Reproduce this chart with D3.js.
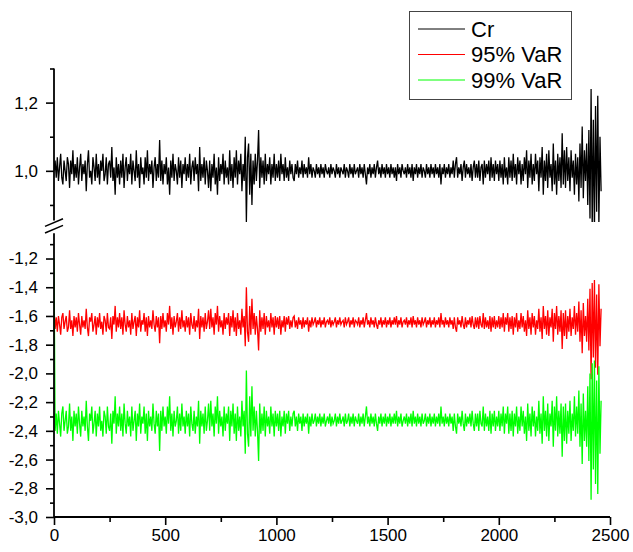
<!DOCTYPE html>
<html>
<head>
<meta charset="utf-8">
<script src="https://cdn.jsdelivr.net/npm/d3@7"></script>
<style>
  body { margin: 0; background: #fff; }
  svg { display: block; }
  text { font-family: Arial, "Liberation Sans", sans-serif; fill: #000; }
</style>
</head>
<body>
<svg id="chart" width="633" height="552"></svg>
<script>
// one sample every 5 steps
var step = 5
var cr = [
  1.00, 1.03, 0.98, 1.04, 0.97, 1.01, 1.05, 0.98, 0.96, 1.03, 1.00, 0.97, 1.04, 1.02, 0.95, 1.03, 0.99, 1.06, 0.97, 1.02,
  0.98, 1.04, 0.96, 1.01, 1.05, 0.97, 1.02, 0.99, 1.03, 0.94, 1.02, 1.06, 0.98, 1.00, 0.96, 1.04, 1.01, 0.97, 1.05, 0.98,
  1.02, 0.96, 1.03, 1.00, 1.05, 0.97, 0.99, 1.04, 0.96, 1.02, 1.03, 0.98, 1.07, 0.97, 1.01, 0.93, 1.04, 0.98, 1.02, 0.96,
  1.03, 0.98, 1.05, 0.95, 1.01, 1.04, 0.97, 1.02, 0.99, 1.05, 0.96, 1.03, 1.00, 0.97, 1.06, 0.98, 1.02, 0.95, 1.04, 0.99,
  1.01, 0.96, 1.04, 0.98, 1.06, 0.97, 1.02, 0.99, 1.03, 0.95, 1.01, 1.04, 0.97, 1.02, 0.98, 1.09, 0.97, 1.03, 0.96, 1.02,
  0.99, 1.04, 0.96, 1.01, 0.93, 1.03, 0.98, 1.05, 0.97, 1.02, 1.00, 0.96, 1.04, 0.98, 1.03, 0.95, 1.02, 0.99, 1.04, 0.97,
  1.02, 0.98, 1.05, 0.96, 1.01, 1.03, 0.97, 1.04, 0.99, 1.02, 0.94, 1.07, 0.97, 1.02, 0.98, 1.04, 0.96, 1.03, 1.00, 0.95,
  1.03, 0.94, 1.02, 0.98, 1.05, 0.96, 1.01, 0.93, 1.04, 0.97, 1.02, 0.99, 1.05, 0.96, 1.03, 0.98, 1.01, 0.96, 1.06, 0.97,
  1.02, 0.95, 1.04, 0.98, 1.06, 0.96, 1.03, 0.99, 1.05, 0.94, 1.02, 0.97, 1.10, 0.85, 1.04, 1.08, 0.93, 1.05, 0.90, 1.03,
  0.96, 1.05, 0.97, 1.03, 1.12, 0.95, 1.04, 0.98, 1.03, 0.96, 1.05, 0.97, 1.02, 0.99, 1.04, 0.96, 1.02, 0.98, 1.05, 0.97,
  1.02, 0.98, 1.03, 0.97, 1.05, 0.99, 1.02, 0.97, 1.04, 0.98, 1.01, 0.97, 1.03, 0.99, 1.02, 0.98, 0.97, 1.02, 0.99, 1.03,
  0.98, 1.01, 0.99, 1.03, 0.98, 1.02, 0.99, 1.01, 0.98, 1.04, 0.99, 1.02, 0.98, 1.01, 1.00, 0.98, 1.02, 0.99, 1.01, 0.98,
  1.02, 0.99, 1.01, 0.98, 1.02, 1.00, 0.99, 1.01, 0.98, 1.02, 0.99, 1.01, 1.00, 0.98, 1.02, 0.99, 1.01, 0.98, 1.01, 1.00,
  0.99, 1.02, 0.98, 1.01, 1.00, 0.98, 1.02, 0.99, 1.01, 0.98, 1.02, 0.99, 1.00, 1.01, 0.98, 1.02, 0.99, 1.01, 0.98, 1.02,
  0.99, 0.96, 1.01, 0.99, 1.02, 0.98, 1.01, 0.99, 1.02, 0.98, 1.01, 1.03, 0.99, 1.01, 0.98, 1.02, 0.99, 1.01, 0.98, 1.02,
  0.99, 1.01, 0.98, 1.02, 0.99, 1.01, 0.98, 1.01, 0.97, 1.02, 0.99, 1.01, 0.98, 1.02, 1.00, 0.99, 1.01, 0.98, 1.02, 0.99,
  1.01, 0.98, 1.02, 0.97, 1.01, 0.99, 1.02, 0.98, 1.01, 0.99, 1.02, 0.98, 1.01, 1.00, 0.98, 1.02, 0.99, 1.01, 0.98, 1.02,
  0.99, 1.01, 0.98, 1.02, 0.99, 1.01, 0.98, 1.02, 0.96, 1.01, 0.99, 1.02, 0.98, 1.01, 0.99, 1.02, 0.98, 1.01, 0.99, 1.03,
  0.98, 1.02, 1.04, 0.98, 1.01, 0.99, 1.02, 0.97, 1.01, 1.03, 0.98, 1.02, 0.99, 1.01, 0.98, 1.02, 0.97, 1.01, 1.03, 0.98,
  1.02, 0.98, 1.03, 0.97, 1.01, 1.02, 0.96, 1.03, 0.98, 1.02, 0.99, 1.03, 0.97, 1.04, 0.98, 1.02, 0.97, 1.03, 0.99, 1.02,
  0.97, 1.03, 0.98, 1.02, 0.96, 1.04, 0.98, 1.01, 0.96, 1.04, 0.98, 1.03, 0.97, 1.05, 0.98, 1.02, 0.96, 1.04, 0.99, 1.03,
  0.96, 1.02, 0.97, 1.04, 0.99, 1.06, 0.95, 1.03, 0.98, 1.05, 0.96, 1.02, 0.97, 1.05, 0.99, 1.03, 0.94, 1.04, 0.98, 1.07,
  0.93, 1.03, 0.97, 1.05, 0.95, 1.06, 0.98, 1.02, 0.94, 1.08, 0.96, 1.03, 0.93, 1.05, 0.97, 1.04, 0.95, 1.11, 0.96, 1.06,
  0.95, 1.07, 0.97, 1.04, 0.94, 1.06, 0.98, 1.03, 0.93, 1.05, 0.96, 1.04, 0.91, 1.08, 0.95, 1.13, 0.92, 1.06, 0.97, 1.08,
  0.90, 1.12, 0.86, 1.24, 0.83, 1.15, 0.82, 1.19, 0.88, 1.22, 0.84, 1.10, 0.94
]
var var95 = [
  -1.55, -1.69, -1.61, -1.71, -1.60, -1.66, -1.73, -1.61, -1.58, -1.69, -1.64, -1.60, -1.71, -1.68, -1.56, -1.69, -1.63, -1.74, -1.60, -1.68,
  -1.61, -1.71, -1.58, -1.66, -1.73, -1.60, -1.68, -1.63, -1.69, -1.55, -1.68, -1.74, -1.61, -1.64, -1.58, -1.71, -1.66, -1.60, -1.73, -1.61,
  -1.68, -1.58, -1.69, -1.64, -1.73, -1.60, -1.63, -1.71, -1.58, -1.68, -1.69, -1.61, -1.76, -1.60, -1.66, -1.53, -1.71, -1.61, -1.68, -1.58,
  -1.69, -1.61, -1.73, -1.56, -1.66, -1.71, -1.60, -1.68, -1.63, -1.73, -1.58, -1.69, -1.64, -1.60, -1.74, -1.61, -1.68, -1.56, -1.71, -1.63,
  -1.66, -1.58, -1.71, -1.61, -1.74, -1.60, -1.68, -1.63, -1.69, -1.56, -1.66, -1.71, -1.60, -1.68, -1.61, -1.79, -1.60, -1.69, -1.58, -1.68,
  -1.63, -1.71, -1.58, -1.66, -1.53, -1.69, -1.61, -1.73, -1.60, -1.68, -1.64, -1.58, -1.71, -1.61, -1.69, -1.56, -1.68, -1.63, -1.71, -1.60,
  -1.68, -1.61, -1.73, -1.58, -1.66, -1.69, -1.60, -1.71, -1.63, -1.68, -1.55, -1.76, -1.60, -1.68, -1.61, -1.71, -1.58, -1.69, -1.64, -1.56,
  -1.69, -1.55, -1.68, -1.61, -1.73, -1.58, -1.66, -1.53, -1.71, -1.60, -1.68, -1.63, -1.73, -1.58, -1.69, -1.61, -1.66, -1.58, -1.74, -1.60,
  -1.68, -1.56, -1.71, -1.61, -1.74, -1.58, -1.69, -1.63, -1.73, -1.55, -1.68, -1.60, -1.81, -1.40, -1.71, -1.78, -1.53, -1.73, -1.48, -1.69,
  -1.58, -1.73, -1.60, -1.69, -1.84, -1.56, -1.71, -1.61, -1.69, -1.58, -1.73, -1.60, -1.68, -1.63, -1.71, -1.58, -1.68, -1.61, -1.73, -1.60,
  -1.68, -1.61, -1.69, -1.60, -1.73, -1.63, -1.68, -1.60, -1.71, -1.61, -1.66, -1.60, -1.69, -1.63, -1.68, -1.61, -1.60, -1.68, -1.63, -1.69,
  -1.61, -1.66, -1.63, -1.69, -1.61, -1.68, -1.63, -1.66, -1.61, -1.71, -1.63, -1.68, -1.61, -1.66, -1.64, -1.61, -1.68, -1.63, -1.66, -1.61,
  -1.68, -1.63, -1.66, -1.61, -1.68, -1.64, -1.63, -1.66, -1.61, -1.68, -1.63, -1.66, -1.64, -1.61, -1.68, -1.63, -1.66, -1.61, -1.66, -1.64,
  -1.63, -1.68, -1.61, -1.66, -1.64, -1.61, -1.68, -1.63, -1.66, -1.61, -1.68, -1.63, -1.64, -1.66, -1.61, -1.68, -1.63, -1.66, -1.61, -1.68,
  -1.63, -1.58, -1.66, -1.63, -1.68, -1.61, -1.66, -1.63, -1.68, -1.61, -1.66, -1.69, -1.63, -1.66, -1.61, -1.68, -1.63, -1.66, -1.61, -1.68,
  -1.63, -1.66, -1.61, -1.68, -1.63, -1.66, -1.61, -1.66, -1.60, -1.68, -1.63, -1.66, -1.61, -1.68, -1.64, -1.63, -1.66, -1.61, -1.68, -1.63,
  -1.66, -1.61, -1.68, -1.60, -1.66, -1.63, -1.68, -1.61, -1.66, -1.63, -1.68, -1.61, -1.66, -1.64, -1.61, -1.68, -1.63, -1.66, -1.61, -1.68,
  -1.63, -1.66, -1.61, -1.68, -1.63, -1.66, -1.61, -1.68, -1.58, -1.66, -1.63, -1.68, -1.61, -1.66, -1.63, -1.68, -1.61, -1.66, -1.63, -1.69,
  -1.61, -1.68, -1.71, -1.61, -1.66, -1.63, -1.68, -1.60, -1.66, -1.69, -1.61, -1.68, -1.63, -1.66, -1.61, -1.68, -1.60, -1.66, -1.69, -1.61,
  -1.68, -1.61, -1.69, -1.60, -1.66, -1.68, -1.58, -1.69, -1.61, -1.68, -1.63, -1.69, -1.60, -1.71, -1.61, -1.68, -1.60, -1.69, -1.63, -1.68,
  -1.60, -1.69, -1.61, -1.68, -1.58, -1.71, -1.61, -1.66, -1.58, -1.71, -1.61, -1.69, -1.60, -1.73, -1.61, -1.68, -1.58, -1.71, -1.63, -1.69,
  -1.58, -1.68, -1.60, -1.71, -1.63, -1.74, -1.56, -1.69, -1.61, -1.73, -1.58, -1.68, -1.60, -1.73, -1.63, -1.69, -1.55, -1.71, -1.61, -1.76,
  -1.53, -1.69, -1.60, -1.73, -1.56, -1.74, -1.61, -1.68, -1.55, -1.78, -1.58, -1.69, -1.53, -1.73, -1.60, -1.71, -1.56, -1.83, -1.58, -1.74,
  -1.56, -1.76, -1.60, -1.71, -1.55, -1.74, -1.61, -1.69, -1.53, -1.73, -1.58, -1.71, -1.50, -1.78, -1.56, -1.86, -1.51, -1.74, -1.60, -1.78,
  -1.48, -1.84, -1.41, -2.04, -1.37, -1.89, -1.35, -1.96, -1.45, -2.01, -1.38, -1.81, -1.55
]
var var99 = [
  -1.20, -2.40, -2.28, -2.42, -2.26, -2.35, -2.44, -2.28, -2.23, -2.40, -2.33, -2.26, -2.42, -2.37, -2.21, -2.40, -2.30, -2.47, -2.26, -2.37,
  -2.28, -2.42, -2.23, -2.35, -2.44, -2.26, -2.37, -2.30, -2.40, -2.19, -2.37, -2.47, -2.28, -2.33, -2.23, -2.42, -2.35, -2.26, -2.44, -2.28,
  -2.37, -2.23, -2.40, -2.33, -2.44, -2.26, -2.30, -2.42, -2.23, -2.37, -2.40, -2.28, -2.49, -2.26, -2.35, -2.16, -2.42, -2.28, -2.37, -2.23,
  -2.40, -2.28, -2.44, -2.21, -2.35, -2.42, -2.26, -2.37, -2.30, -2.44, -2.23, -2.40, -2.33, -2.26, -2.47, -2.28, -2.37, -2.21, -2.42, -2.30,
  -2.35, -2.23, -2.42, -2.28, -2.47, -2.26, -2.37, -2.30, -2.40, -2.21, -2.35, -2.42, -2.26, -2.37, -2.28, -2.54, -2.26, -2.40, -2.23, -2.37,
  -2.30, -2.42, -2.23, -2.35, -2.16, -2.40, -2.28, -2.44, -2.26, -2.37, -2.33, -2.23, -2.42, -2.28, -2.40, -2.21, -2.37, -2.30, -2.42, -2.26,
  -2.37, -2.28, -2.44, -2.23, -2.35, -2.40, -2.26, -2.42, -2.30, -2.37, -2.19, -2.49, -2.26, -2.37, -2.28, -2.42, -2.23, -2.40, -2.33, -2.21,
  -2.40, -2.19, -2.37, -2.28, -2.44, -2.23, -2.35, -2.16, -2.42, -2.26, -2.37, -2.30, -2.44, -2.23, -2.40, -2.28, -2.35, -2.23, -2.47, -2.26,
  -2.37, -2.21, -2.42, -2.28, -2.47, -2.23, -2.40, -2.30, -2.44, -2.19, -2.37, -2.26, -2.56, -1.98, -2.42, -2.51, -2.16, -2.44, -2.09, -2.40,
  -2.23, -2.44, -2.26, -2.40, -2.61, -2.21, -2.42, -2.28, -2.40, -2.23, -2.44, -2.26, -2.37, -2.30, -2.42, -2.23, -2.37, -2.28, -2.44, -2.26,
  -2.37, -2.28, -2.40, -2.26, -2.44, -2.30, -2.37, -2.26, -2.42, -2.28, -2.35, -2.26, -2.40, -2.30, -2.37, -2.28, -2.26, -2.37, -2.30, -2.40,
  -2.28, -2.35, -2.30, -2.40, -2.28, -2.37, -2.30, -2.35, -2.28, -2.42, -2.30, -2.37, -2.28, -2.35, -2.33, -2.28, -2.37, -2.30, -2.35, -2.28,
  -2.37, -2.30, -2.35, -2.28, -2.37, -2.33, -2.30, -2.35, -2.28, -2.37, -2.30, -2.35, -2.33, -2.28, -2.37, -2.30, -2.35, -2.28, -2.35, -2.33,
  -2.30, -2.37, -2.28, -2.35, -2.33, -2.28, -2.37, -2.30, -2.35, -2.28, -2.37, -2.30, -2.33, -2.35, -2.28, -2.37, -2.30, -2.35, -2.28, -2.37,
  -2.30, -2.23, -2.35, -2.30, -2.37, -2.28, -2.35, -2.30, -2.37, -2.28, -2.35, -2.40, -2.30, -2.35, -2.28, -2.37, -2.30, -2.35, -2.28, -2.37,
  -2.30, -2.35, -2.28, -2.37, -2.30, -2.35, -2.28, -2.35, -2.26, -2.37, -2.30, -2.35, -2.28, -2.37, -2.33, -2.30, -2.35, -2.28, -2.37, -2.30,
  -2.35, -2.28, -2.37, -2.26, -2.35, -2.30, -2.37, -2.28, -2.35, -2.30, -2.37, -2.28, -2.35, -2.33, -2.28, -2.37, -2.30, -2.35, -2.28, -2.37,
  -2.30, -2.35, -2.28, -2.37, -2.30, -2.35, -2.28, -2.37, -2.23, -2.35, -2.30, -2.37, -2.28, -2.35, -2.30, -2.37, -2.28, -2.35, -2.30, -2.40,
  -2.28, -2.37, -2.42, -2.28, -2.35, -2.30, -2.37, -2.26, -2.35, -2.40, -2.28, -2.37, -2.30, -2.35, -2.28, -2.37, -2.26, -2.35, -2.40, -2.28,
  -2.37, -2.28, -2.40, -2.26, -2.35, -2.37, -2.23, -2.40, -2.28, -2.37, -2.30, -2.40, -2.26, -2.42, -2.28, -2.37, -2.26, -2.40, -2.30, -2.37,
  -2.26, -2.40, -2.28, -2.37, -2.23, -2.42, -2.28, -2.35, -2.23, -2.42, -2.28, -2.40, -2.26, -2.44, -2.28, -2.37, -2.23, -2.42, -2.30, -2.40,
  -2.23, -2.37, -2.26, -2.42, -2.30, -2.47, -2.21, -2.40, -2.28, -2.44, -2.23, -2.37, -2.26, -2.44, -2.30, -2.40, -2.19, -2.42, -2.28, -2.49,
  -2.16, -2.40, -2.26, -2.44, -2.21, -2.47, -2.28, -2.37, -2.19, -2.51, -2.23, -2.40, -2.16, -2.44, -2.26, -2.42, -2.21, -2.58, -2.23, -2.47,
  -2.21, -2.49, -2.26, -2.42, -2.19, -2.47, -2.28, -2.40, -2.16, -2.44, -2.23, -2.42, -2.12, -2.51, -2.21, -2.63, -2.14, -2.47, -2.26, -2.51,
  -2.09, -2.61, -2.00, -2.88, -1.93, -2.67, -1.91, -2.77, -2.05, -2.84, -1.95, -2.56, -2.19
]

var xTicks = [0, 500, 1000, 1500, 2000, 2500]
var xMinor = [250, 750, 1250, 1750, 2250]
var upperTicks = [1.0, 1.2]
var upperMinor = [0.9, 1.1, 1.3]
var lowerTicks = [-3.0, -2.8, -2.6, -2.4, -2.2, -2.0, -1.8, -1.6, -1.4, -1.2]
var lowerMinor = [-2.9, -2.7, -2.5, -2.3, -2.1, -1.9, -1.7, -1.5, -1.3, -1.1]
var seriesNames = ["Cr", "95% VaR", "99% VaR"]
var seriesColors = ["#000000", "#ff0000", "#00ff00"]

var svg = d3.select("#chart")

var x = d3.scaleLinear().domain([0, 2500]).range([54, 610])
var yTop = d3.scaleLinear().domain([0.85, 1.3]).range([222, 68.5])
var yBot = d3.scaleLinear().domain([-3.0, -1.0]).range([517, 229.8])

var comma = function (d) { return d3.format(".1f")(d).replace(".", ",").replace("\u2212", "-") }

// clip each panel
var defs = svg.append("defs")
defs.append("clipPath").attr("id", "clipTop").append("rect")
    .attr("x", x(0)).attr("y", yTop(1.3))
    .attr("width", x(2500) - x(0)).attr("height", yTop(0.85) - yTop(1.3))
defs.append("clipPath").attr("id", "clipBot").append("rect")
    .attr("x", x(0)).attr("y", yBot(-1.0))
    .attr("width", x(2500) - x(0)).attr("height", yBot(-3.0) - yBot(-1.0))

function lineFor(scale) {
    return d3.line()
        .x(function (d, i) { return x(i * step) })
        .y(function (d) { return scale(d) })
}

var lineW = 1.3

svg.append("g").attr("clip-path", "url(#clipTop)")
    .append("path").datum(cr)
    .attr("d", lineFor(yTop))
    .attr("fill", "none").attr("stroke", seriesColors[0]).attr("stroke-width", lineW)

var bottomSeries = [var95, var99]
bottomSeries.forEach(function (s, k) {
    svg.append("g").attr("clip-path", "url(#clipBot)")
        .append("path").datum(s)
        .attr("d", lineFor(yBot))
        .attr("fill", "none").attr("stroke", seriesColors[k + 1]).attr("stroke-width", lineW)
})

// axes
function styleAxis(g) {
    g.select(".domain").remove()
    g.selectAll(".tick line").attr("stroke", "#000").attr("stroke-width", 1.6)
    g.selectAll(".tick text").style("font-size", "17px").attr("fill", "#000")
}

svg.append("g").attr("transform", "translate(0," + yBot(-3.0) + ")")
    .call(d3.axisBottom(x).tickValues(xTicks).tickSize(8).tickPadding(4).tickFormat(d3.format("d")))
    .call(styleAxis)
svg.append("g").attr("transform", "translate(0," + yBot(-3.0) + ")")
    .call(d3.axisBottom(x).tickValues(xMinor).tickSize(5).tickFormat(""))
    .call(styleAxis)

svg.append("g").attr("transform", "translate(" + x(0) + ",0)")
    .call(d3.axisLeft(yTop).tickValues(upperTicks).tickSize(8).tickPadding(8).tickFormat(comma))
    .call(styleAxis)
svg.append("g").attr("transform", "translate(" + x(0) + ",0)")
    .call(d3.axisLeft(yTop).tickValues(upperMinor).tickSize(4).tickFormat(""))
    .call(styleAxis)
svg.append("g").attr("transform", "translate(" + x(0) + ",0)")
    .call(d3.axisLeft(yBot).tickValues(lowerTicks).tickSize(8).tickPadding(8).tickFormat(comma))
    .call(styleAxis)
svg.append("g").attr("transform", "translate(" + x(0) + ",0)")
    .call(d3.axisLeft(yBot).tickValues(lowerMinor).tickSize(4).tickFormat(""))
    .call(styleAxis)

// axis lines with the break
var axisW = 1.8
svg.append("line").attr("x1", x(0)).attr("x2", x(2500))
    .attr("y1", yBot(-3.0)).attr("y2", yBot(-3.0))
    .attr("stroke", "#000").attr("stroke-width", axisW)
svg.append("line").attr("x1", x(0)).attr("x2", x(0))
    .attr("y1", yTop(1.3)).attr("y2", yTop(0.85) - 1.5)
    .attr("stroke", "#000").attr("stroke-width", axisW)
svg.append("line").attr("x1", x(0)).attr("x2", x(0))
    .attr("y1", yBot(-1.0) + 3.5).attr("y2", yBot(-3.0) + axisW / 2)
    .attr("stroke", "#000").attr("stroke-width", axisW)

var gapMid = (yTop(0.85) + yBot(-1.0)) / 2
;[-3.3, 3.3].forEach(function (off) {
    svg.append("line")
        .attr("x1", x(0) - 9).attr("y1", gapMid + off + 3.8)
        .attr("x2", x(0) + 9).attr("y2", gapMid + off - 3.8)
        .attr("stroke", "#000").attr("stroke-width", 1.5)
})

// legend
var legend = svg.append("g")
legend.append("rect")
    .attr("x", 409.5).attr("y", 11.5).attr("width", 162).attr("height", 88)
    .attr("fill", "#fff").attr("stroke", "#444").attr("stroke-width", 1)
seriesNames.forEach(function (name, i) {
    var ly = 29 + i * 25.5
    legend.append("line")
        .attr("x1", 418).attr("x2", 465).attr("y1", ly).attr("y2", ly)
        .attr("stroke", seriesColors[i]).attr("stroke-width", 1)
    legend.append("text")
        .attr("x", 471).attr("y", ly + 7.5)
        .style("font-size", "22px")
        .text(name)
})
</script>
</body>
</html>
